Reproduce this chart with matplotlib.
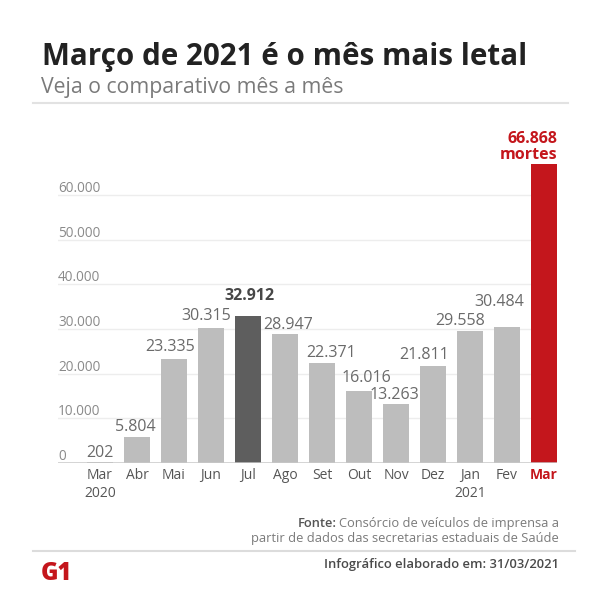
import matplotlib
matplotlib.use("Agg")
import matplotlib.pyplot as plt

plt.rcParams['font.family'] = ['Open Sans', 'DejaVu Sans']

months = ["Mar", "Abr", "Mai", "Jun", "Jul", "Ago", "Set", "Out", "Nov", "Dez", "Jan", "Fev", "Mar"]
years = ["2020", "", "", "", "", "", "", "", "", "", "2021", "", ""]
deaths = [202, 5804, 23335, 30315, 32912, 28947, 22371, 16016, 13263, 21811, 29558, 30484, 66868]
value_labels = ["202", "5.804", "23.335", "30.315", "32.912", "28.947", "22.371", "16.016",
                "13.263", "21.811", "29.558", "30.484", "66.868\nmortes"]
yticks = [0, 10000, 20000, 30000, 40000, 50000, 60000]
ytick_labels = ["0", "10.000", "20.000", "30.000", "40.000", "50.000", "60.000"]
peak_2020 = 4      # index of Jul (highest of 2020)
record = 12        # index of Mar 2021

# label nudges (pixels), as laid out in the original infographic
label_dx = [0, -2, -4, -5, 1, 3, 9, 7, -1.5, -9, -10, -8, 0]
label_dy = [5, 6, 8, 8, 16, 5, 6, 9, 5, 7, 6, 21, 0]

W, H = 605, 611
fig = plt.figure(figsize=(W / 100, H / 100), dpi=100)
fig.patch.set_facecolor("white")

def fx(px):
    return px / W

def fy(py):
    return 1 - py / H

GRAY = "#bdbdbd"
DARK = "#5e5e5e"
RED = "#c4161c"

# Axes
ax = fig.add_axes([fx(58), fy(463), fx(557) - fx(58), fy(141.4) - fy(463)])
ax.set_xlim(-1.135, 12.35)
ax.set_ylim(0, 72000)
for s in ax.spines.values():
    s.set_visible(False)
ax.set_xticks([])
ax.set_yticks([])

for t, lab in zip(yticks, ytick_labels):
    if t > 0:
        ax.axhline(t, color="#ededed", lw=1.0, zorder=0)
    ax.annotate(lab, (0, t), xycoords=ax.get_yaxis_transform(), xytext=(0, 3),
                textcoords="offset pixels", ha="left", va="baseline",
                fontsize=9.8, color="#8a8a8a")
ax.axhline(0, color="#c8c8c8", lw=1.8, zorder=3)

colors = [GRAY] * len(deaths)
colors[peak_2020] = DARK
colors[record] = RED
x = list(range(len(deaths)))
ax.bar(x, deaths, width=0.72, color=colors, zorder=2)

for i, (v, lab) in enumerate(zip(deaths, value_labels)):
    if i == record:
        ax.annotate(lab, (i + 0.36, v), xytext=(0, 1), textcoords="offset pixels",
                    ha="right", va="bottom", fontsize=11.5, fontweight="bold",
                    color=RED, linespacing=1.05)
    elif i == peak_2020:
        ax.annotate(lab, (i, v), xytext=(label_dx[i], label_dy[i]), textcoords="offset pixels",
                    ha="center", va="baseline", fontsize=11.5, fontweight="bold",
                    color="#474747")
    else:
        ax.annotate(lab, (i, v), xytext=(label_dx[i], label_dy[i]), textcoords="offset pixels",
                    ha="center", va="baseline", fontsize=11.5, color="#6a6a6a")

xt = ax.get_xaxis_transform()
for i, (m, yr) in enumerate(zip(months, years)):
    col = RED if i == record else "#555555"
    fw = "bold" if i == record else "normal"
    ax.annotate(m, (i, 0), xycoords=xt, xytext=(0, -16), textcoords="offset pixels",
                ha="center", va="baseline", fontsize=10, color=col, fontweight=fw)
    if yr:
        ax.annotate(yr, (i, 0), xycoords=xt, xytext=(0, -34), textcoords="offset pixels",
                    ha="center", va="baseline", fontsize=10, color=col, fontweight=fw)

# Titles
fig.text(fx(42), fy(65), "Março de 2021 é o mês mais letal", ha="left", va="baseline",
         fontsize=21.3, fontweight="bold", color="#222222")
fig.text(fx(41), fy(93), "Veja o comparativo mês a mês", ha="left", va="baseline",
         fontsize=15.3, color="#7a7a7a")
fig.add_artist(plt.Line2D([fx(33), fx(568)], [fy(103), fy(103)], color="#e2e2e2", lw=1.5))

# Footer
fig.text(fx(559), fy(527), "Consórcio de veículos de imprensa a", ha="right", va="baseline",
         fontsize=9.3, color="#7a7a7a")
fig.text(fx(559), fy(542), "partir de dados das secretarias estaduais de Saúde", ha="right",
         va="baseline", fontsize=9.3, color="#7a7a7a")
fig.canvas.draw()
r = fig.canvas.get_renderer()
t_src = fig.texts[-2]
bb = t_src.get_window_extent(r)
fig.text(bb.x0 / W - 0.003, fy(527), "Fonte:", ha="right", va="baseline", fontsize=9.3,
         color="#555555", fontweight="semibold")
fig.add_artist(plt.Line2D([fx(33), fx(575)], [fy(551), fy(551)], color="#dcdcdc", lw=1.5))
fig.text(fx(559), fy(568), "Infográfico elaborado em: 31/03/2021", ha="right", va="baseline",
         fontsize=9.4, color="#4a4a4a", fontweight="semibold")
fig.text(fx(41), fy(580), "G1", ha="left", va="baseline", fontsize=17, color=RED,
         fontweight="heavy")

fig.savefig("out.png", dpi=100, facecolor="white")
